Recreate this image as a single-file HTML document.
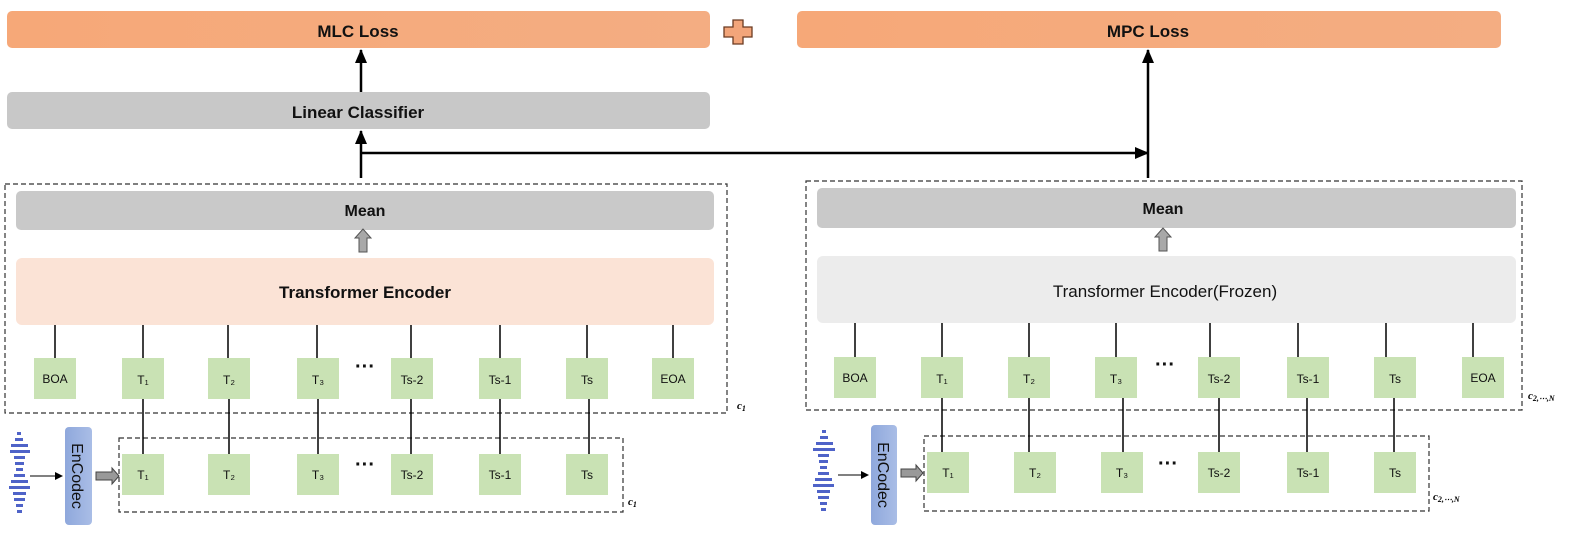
<!DOCTYPE html>
<html><head><meta charset="utf-8"><style>
html,body{margin:0;padding:0;background:#fff;}
svg{display:block;font-family:"Liberation Sans",sans-serif;}
.b{font-weight:bold;fill:#111;}
</style></head><body>
<svg width="1577" height="534" viewBox="0 0 1577 534" xmlns="http://www.w3.org/2000/svg">
<defs>
<linearGradient id="og" x1="0" x2="1"><stop offset="0" stop-color="#f6a878"/><stop offset="1" stop-color="#f4ad82"/></linearGradient>
<linearGradient id="ec" x1="0" x2="1"><stop offset="0" stop-color="#8fa8dc"/><stop offset="1" stop-color="#a9bde6"/></linearGradient>
<marker id="ah" markerWidth="8" markerHeight="8" refX="7" refY="4" orient="auto" markerUnits="userSpaceOnUse"><path d="M0,0 L8,4 L0,8 z" fill="#000"/></marker>
<marker id="ah2" markerWidth="14" markerHeight="14" refX="13" refY="7" orient="auto" markerUnits="userSpaceOnUse"><path d="M0,1 L14,7 L0,13 z" fill="#000"/></marker>
</defs>

<!-- Loss boxes -->
<rect x="7" y="11" width="703" height="37" rx="5" fill="url(#og)"/>
<text x="358" y="37" text-anchor="middle" font-size="17" class="b">MLC Loss</text>
<rect x="797" y="11" width="704" height="37" rx="5" fill="url(#og)"/>
<text x="1148" y="37" text-anchor="middle" font-size="17" class="b">MPC Loss</text>
<!-- plus -->
<path d="M733,20 h10 v7 h9 v10 h-9 v7 h-10 v-7 h-9 v-10 h9 z" fill="#f2a57a" stroke="#6b3b22" stroke-width="1.3"/>

<!-- Linear classifier -->
<rect x="7" y="92" width="703" height="37" rx="5" fill="#c8c8c8"/>
<text x="358" y="118" text-anchor="middle" font-size="17" class="b">Linear Classifier</text>

<!-- arrows -->
<line x1="361" y1="92" x2="361" y2="50" stroke="#000" stroke-width="2.5" marker-end="url(#ah2)"/>
<line x1="361" y1="178" x2="361" y2="131" stroke="#000" stroke-width="2.5" marker-end="url(#ah2)"/>
<line x1="361" y1="153" x2="1148" y2="153" stroke="#000" stroke-width="2.5" marker-end="url(#ah2)"/>
<line x1="1148" y1="178" x2="1148" y2="50" stroke="#000" stroke-width="2.5" marker-end="url(#ah2)"/>

<!-- LEFT dashed -->
<rect x="5" y="184" width="722" height="229" fill="none" stroke="#333" stroke-width="1.2" stroke-dasharray="5,3"/>
<rect x="16" y="191" width="698" height="39" rx="5" fill="#c9c9c9"/>
<text x="365" y="216" text-anchor="middle" font-size="16" class="b">Mean</text>
<path d="M359,252 v-14 h-4 l8,-9 l8,9 h-4 v14 z" fill="#a8a8a8" stroke="#555" stroke-width="1"/>
<rect x="16" y="258" width="698" height="67" rx="6" fill="#fbe3d6"/>
<text x="365" y="298" text-anchor="middle" font-size="17" class="b">Transformer Encoder</text>
<text x="737" y="409" font-size="11" font-style="italic" font-weight="bold" font-family="Liberation Serif">c<tspan font-size="8" dy="2">1</tspan></text>

<!-- RIGHT dashed -->
<rect x="806" y="181" width="716" height="229" fill="none" stroke="#333" stroke-width="1.2" stroke-dasharray="5,3"/>
<rect x="817" y="188" width="699" height="40" rx="5" fill="#c9c9c9"/>
<text x="1163" y="214" text-anchor="middle" font-size="16" class="b">Mean</text>
<path d="M1159,251 v-14 h-4 l8,-9 l8,9 h-4 v14 z" fill="#a8a8a8" stroke="#555" stroke-width="1"/>
<rect x="817" y="256" width="699" height="67" rx="6" fill="#ececec"/>
<text x="1165" y="297" text-anchor="middle" font-size="17" fill="#111">Transformer Encoder(Frozen)</text>
<text x="1528" y="399" font-size="11" font-style="italic" font-weight="bold" font-family="Liberation Serif">c<tspan font-size="8" dy="2">2,⋯,N</tspan></text>

<!-- bottom dashed -->
<rect x="119" y="438" width="504" height="74" fill="none" stroke="#333" stroke-width="1.2" stroke-dasharray="5,3"/>
<text x="628" y="505" font-size="11" font-style="italic" font-weight="bold" font-family="Liberation Serif">c<tspan font-size="8" dy="2">1</tspan></text>
<rect x="924" y="436" width="505" height="75" fill="none" stroke="#333" stroke-width="1.2" stroke-dasharray="5,3"/>
<text x="1433" y="500" font-size="11" font-style="italic" font-weight="bold" font-family="Liberation Serif">c<tspan font-size="8" dy="2">2,⋯,N</tspan></text>

<!-- connectors left -->
<g stroke="#000" stroke-width="1.5">
<line x1="55" y1="325" x2="55" y2="358"/><line x1="143" y1="325" x2="143" y2="358"/><line x1="228" y1="325" x2="228" y2="358"/><line x1="317" y1="325" x2="317" y2="358"/><line x1="411" y1="325" x2="411" y2="358"/><line x1="500" y1="325" x2="500" y2="358"/><line x1="587" y1="325" x2="587" y2="358"/><line x1="673" y1="325" x2="673" y2="358"/>
<line x1="143" y1="398" x2="143" y2="454"/><line x1="229" y1="398" x2="229" y2="454"/><line x1="318" y1="398" x2="318" y2="454"/><line x1="411" y1="398" x2="411" y2="454"/><line x1="500" y1="398" x2="500" y2="454"/><line x1="589" y1="398" x2="589" y2="454"/>
<line x1="855" y1="323" x2="855" y2="357"/><line x1="942" y1="323" x2="942" y2="357"/><line x1="1029" y1="323" x2="1029" y2="357"/><line x1="1116" y1="323" x2="1116" y2="357"/><line x1="1210" y1="323" x2="1210" y2="357"/><line x1="1298" y1="323" x2="1298" y2="357"/><line x1="1386" y1="323" x2="1386" y2="357"/><line x1="1473" y1="323" x2="1473" y2="357"/>
<line x1="942" y1="398" x2="942" y2="452"/><line x1="1029" y1="398" x2="1029" y2="452"/><line x1="1123" y1="398" x2="1123" y2="452"/><line x1="1219" y1="398" x2="1219" y2="452"/><line x1="1307" y1="398" x2="1307" y2="452"/><line x1="1394" y1="398" x2="1394" y2="452"/>
</g>

<!-- tokens -->
<g fill="#c9e2b4">
<rect x="34" y="358" width="42" height="41"/><rect x="122" y="358" width="42" height="41"/><rect x="208" y="358" width="42" height="41"/><rect x="297" y="358" width="42" height="41"/><rect x="391" y="358" width="42" height="41"/><rect x="479" y="358" width="42" height="41"/><rect x="566" y="358" width="42" height="41"/><rect x="652" y="358" width="42" height="41"/>
<rect x="122" y="454" width="42" height="41"/><rect x="208" y="454" width="42" height="41"/><rect x="297" y="454" width="42" height="41"/><rect x="391" y="454" width="42" height="41"/><rect x="479" y="454" width="42" height="41"/><rect x="566" y="454" width="42" height="41"/>
<rect x="834" y="357" width="42" height="41"/><rect x="921" y="357" width="42" height="41"/><rect x="1008" y="357" width="42" height="41"/><rect x="1095" y="357" width="42" height="41"/><rect x="1198" y="357" width="42" height="41"/><rect x="1287" y="357" width="42" height="41"/><rect x="1374" y="357" width="42" height="41"/><rect x="1462" y="357" width="42" height="41"/>
<rect x="927" y="452" width="42" height="41"/><rect x="1014" y="452" width="42" height="41"/><rect x="1101" y="452" width="42" height="41"/><rect x="1198" y="452" width="42" height="41"/><rect x="1287" y="452" width="42" height="41"/><rect x="1374" y="452" width="42" height="41"/>
</g>
<g font-size="12" text-anchor="middle" fill="#111">
<text x="55" y="383">BOA</text><text x="143" y="384">T₁</text><text x="229" y="384">T₂</text><text x="318" y="384">T₃</text><text x="412" y="384">Ts-2</text><text x="500" y="384">Ts-1</text><text x="587" y="384">Ts</text><text x="673" y="383">EOA</text>
<text x="143" y="479">T₁</text><text x="229" y="479">T₂</text><text x="318" y="479">T₃</text><text x="412" y="479">Ts-2</text><text x="500" y="479">Ts-1</text><text x="587" y="479">Ts</text>
<text x="855" y="382">BOA</text><text x="942" y="383">T₁</text><text x="1029" y="383">T₂</text><text x="1116" y="383">T₃</text><text x="1219" y="383">Ts-2</text><text x="1308" y="383">Ts-1</text><text x="1395" y="383">Ts</text><text x="1483" y="382">EOA</text>
<text x="948" y="477">T₁</text><text x="1035" y="477">T₂</text><text x="1122" y="477">T₃</text><text x="1219" y="477">Ts-2</text><text x="1308" y="477">Ts-1</text><text x="1395" y="477">Ts</text>
</g>
<g font-size="20" font-weight="bold" text-anchor="middle" fill="#111">
<text x="365" y="373">···</text><text x="365" y="471">···</text><text x="1165" y="371">···</text><text x="1168" y="470">···</text>
</g>

<!-- left encodec -->
<g fill="#4f63c8">
<rect x="17" y="432" width="4" height="3"/><rect x="15" y="438" width="8" height="3"/><rect x="11" y="444" width="17" height="3"/><rect x="10" y="450" width="20" height="3"/><rect x="14" y="456" width="11" height="3"/><rect x="15" y="462" width="9" height="3"/><rect x="16" y="468" width="7" height="3"/><rect x="14" y="474" width="11" height="3"/><rect x="11" y="480" width="17" height="3"/><rect x="9" y="486" width="21" height="3"/><rect x="13" y="492" width="13" height="3"/><rect x="14" y="498" width="11" height="3"/><rect x="16" y="504" width="7" height="3"/><rect x="17" y="510" width="5" height="3"/>
</g>
<line x1="30" y1="476" x2="62" y2="476" stroke="#000" stroke-width="1" marker-end="url(#ah)"/>
<rect x="65" y="427" width="27" height="98" rx="4" fill="url(#ec)"/>
<text transform="translate(72,476) rotate(90)" text-anchor="middle" font-size="16" fill="#111">EnCodec</text>
<path d="M96,472 h16 v-4 l7,8 l-7,8 v-4 h-16 z" fill="#999" stroke="#444" stroke-width="1"/>

<!-- right encodec -->
<g fill="#4f63c8">
<rect x="822" y="430" width="4" height="3"/><rect x="820" y="436" width="8" height="3"/><rect x="816" y="442" width="17" height="3"/><rect x="813" y="448" width="22" height="3"/><rect x="818" y="454" width="11" height="3"/><rect x="819" y="460" width="9" height="3"/><rect x="820" y="466" width="7" height="3"/><rect x="818" y="472" width="11" height="3"/><rect x="815" y="478" width="17" height="3"/><rect x="813" y="484" width="21" height="3"/><rect x="817" y="490" width="13" height="3"/><rect x="818" y="496" width="11" height="3"/><rect x="820" y="502" width="7" height="3"/><rect x="821" y="508" width="5" height="3"/>
</g>
<line x1="838" y1="475" x2="868" y2="475" stroke="#000" stroke-width="1" marker-end="url(#ah)"/>
<rect x="871" y="425" width="26" height="100" rx="4" fill="url(#ec)"/>
<text transform="translate(878,475) rotate(90)" text-anchor="middle" font-size="16" fill="#111">EnCodec</text>
<path d="M901,469 h15 v-4 l7,8 l-7,8 v-4 h-15 z" fill="#999" stroke="#444" stroke-width="1"/>
</svg>
</body></html>
